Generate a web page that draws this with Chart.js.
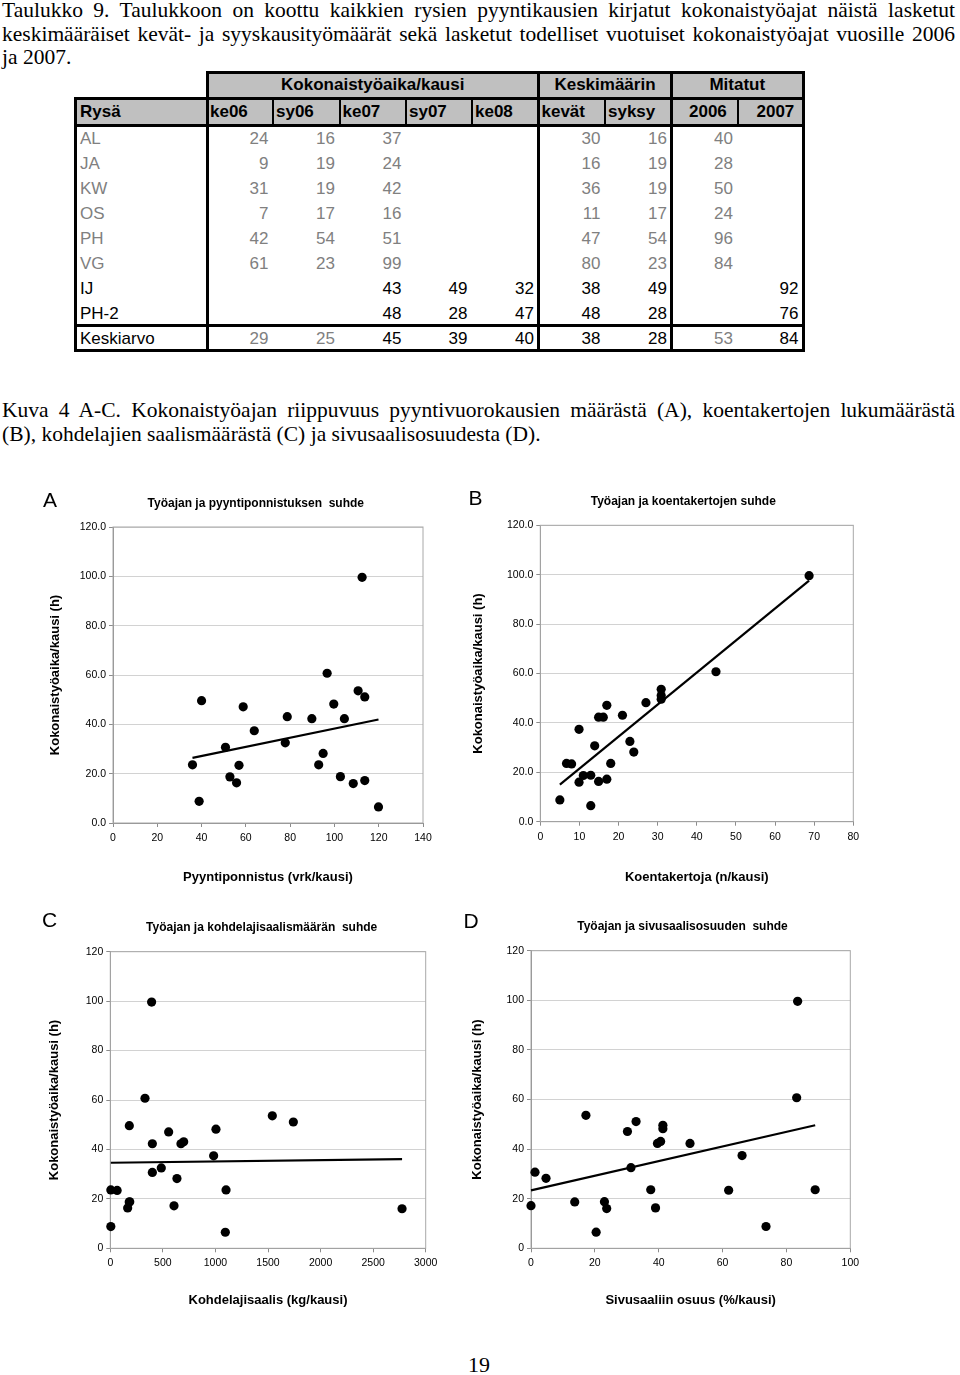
<!DOCTYPE html>
<html><head><meta charset="utf-8">
<script src="https://cdn.jsdelivr.net/npm/chart.js@4.4.1/dist/chart.umd.min.js"></script>
<style>
html,body{margin:0;padding:0;background:#fff;}
#page{position:relative;width:960px;height:1375px;overflow:hidden;background:#fff;}
.serif{position:absolute;left:2px;font-family:'Liberation Serif','Times New Roman',serif;font-size:21.5px;line-height:24px;white-space:nowrap;color:#000;}
.tcell{position:absolute;font-family:'Liberation Sans',Arial,sans-serif;font-size:17px;line-height:20px;white-space:nowrap;color:#000;}
.bold{font-weight:bold;}
.blk{position:absolute;background:#000;}
.bg{position:absolute;background:#c0c0c0;}
.letter{position:absolute;font-family:'Liberation Sans',Arial,sans-serif;font-size:21px;line-height:21px;color:#000;}
.ctitle{position:absolute;font-family:'Liberation Sans',Arial,sans-serif;font-weight:bold;font-size:12px;line-height:14px;white-space:pre;transform:translate(-50%,-50%);color:#000;}
.pnum{position:absolute;font-family:'Liberation Serif','Times New Roman',serif;font-size:22px;line-height:22px;transform:translateX(-50%);}
canvas{position:absolute;}
</style></head>
<body><div id="page"></div>
<script>
// ---------------- DATA ----------------
const introLines = [
  "Taulukko 9. Taulukkoon on koottu kaikkien rysien pyyntikausien kirjatut kokonaistyöajat näistä lasketut",
  "keskimääräiset kevät- ja syyskausityömäärät sekä lasketut todelliset vuotuiset kokonaistyöajat vuosille 2006",
  "ja 2007."
];
const captionLines = [
  "Kuva 4 A-C. Kokonaistyöajan riippuvuus pyyntivuorokausien määrästä (A), koentakertojen lukumäärästä",
  "(B), kohdelajien saalismäärästä (C) ja sivusaalisosuudesta (D)."
];
const groupHeaders = ["Kokonaistyöaika/kausi", "Keskimäärin", "Mitatut"];
const groupSpans = [5, 2, 2];
const rowHeader = "Rysä";
const tableCols = ["ke06","sy06","ke07","sy07","ke08","kevät","syksy","2006","2007"];
const tableRows = ["AL","JA","KW","OS","PH","VG","IJ","PH-2","Keskiarvo"];
const tableValues = [
  [24,16,37,null,null,30,16,40,null],
  [9,19,24,null,null,16,19,28,null],
  [31,19,42,null,null,36,19,50,null],
  [7,17,16,null,null,11,17,24,null],
  [42,54,51,null,null,47,54,96,null],
  [61,23,99,null,null,80,23,84,null],
  [null,null,43,49,32,38,49,null,92],
  [null,null,48,28,47,48,28,null,76],
  [29,25,45,39,40,38,28,53,84]
];
// which cells are printed grey (1 = grey), first entry = row name
const tableGrey = [
  [1,1,1,1,1,1,1,1,1,1],
  [1,1,1,1,1,1,1,1,1,1],
  [1,1,1,1,1,1,1,1,1,1],
  [1,1,1,1,1,1,1,1,1,1],
  [1,1,1,1,1,1,1,1,1,1],
  [1,1,1,1,1,1,1,1,1,1],
  [0,0,0,0,0,0,0,0,0,0],
  [0,0,0,0,0,0,0,0,0,0],
  [0,1,1,0,0,0,0,0,1,0]
];

// Chart A: pyyntiponnistus (vrk/kausi) vs kokonaistyöaika (h)
const xA = [35.9,40.0,38.9,50.8,52.8,55.8,56.9,58.8,63.8,77.8,78.7,89.8,92.9,94.9,96.7,99.7,102.7,104.5,108.5,110.7,112.5,113.7,113.7,119.9];
const yA = [23.6,49.6,8.8,30.7,18.7,16.3,23.4,47.1,37.4,32.5,43.1,42.3,23.6,28.2,60.7,48.2,18.8,42.3,16.0,53.6,99.6,51.1,17.2,6.5];
// Chart B: koentakertoja (n/kausi)
const xB = [5,6.7,8,9.9,9.9,11,12.9,12.9,13.9,14.9,14.9,16.1,17,17,18,21,22.9,23.9,27,30.9,30.9,30.9,44.9,68.7];
const yB = [8.8,23.6,23.4,37.4,16.0,18.7,18.8,6.5,30.7,42.3,16.3,42.3,47.1,17.2,23.6,43.1,32.5,28.2,48.2,53.6,51.1,49.6,60.7,99.6];
// Chart C: kohdelajisaalis (kg/kausi)
const xC = [5,65,1101,5,165,180,185,181,330,393,400,400,485,555,606,634,672,698,983,1005,1094,1541,1741,2775];
const yC = [23.6,23.4,23.6,8.8,16.3,18.7,18.8,49.6,60.7,99.6,42.3,30.7,32.5,47.1,17.2,28.2,42.3,43.1,37.4,48.2,6.5,53.6,51.1,16.0];
// Chart D: sivusaaliin osuus (%/kausi)
const xD = [0,1.25,4.7,13.7,17.2,20.4,23.0,23.7,30.2,31.3,32.9,37.5,39.0,39.6,40.6,41.3,41.3,49.8,61.9,66.1,73.6,83.2,83.5,89.0];
const yD = [17.2,30.7,28.2,18.7,53.6,6.5,18.8,16.0,47.1,32.5,51.1,23.6,16.3,42.3,43.1,49.6,48.2,42.3,23.4,37.4,8.8,60.7,99.6,23.6];

const xTicksA = [0,20,40,60,80,100,120,140];
const xTicksB = [0,10,20,30,40,50,60,70,80];
const xTicksC = [0,500,1000,1500,2000,2500,3000];
const xTicksD = [0,20,40,60,80,100];
const yTicks = [0,20,40,60,80,100,120];

const letters = ["A","B","C","D"];
const chartTitles = ["Työajan ja pyyntiponnistuksen  suhde","Työajan ja koentakertojen suhde","Työajan ja kohdelajisaalismäärän  suhde","Työajan ja sivusaalisosuuden  suhde"];
const xTitles = ["Pyyntiponnistus (vrk/kausi)","Koentakertoja (n/kausi)","Kohdelajisaalis (kg/kausi)","Sivusaaliin osuus (%/kausi)"];
const yTitle = "Kokonaistyöaika/kausi (h)";
const pageNumber = "19";

// ---------------- TEXT ----------------
const page = document.getElementById('page');
function el(cls, txt, css){ const d=document.createElement('div'); d.className=cls; if(txt!==undefined) d.textContent=txt; Object.assign(d.style, css||{}); page.appendChild(d); return d; }

function textBlock(lines, top, lh, nJust, width){
  lines.forEach((t,i)=>{
    const d = el('serif', t, {top:(top+i*lh)+'px'});
    if(i<nJust){
      const w = d.getBoundingClientRect().width;
      const spaces = (t.match(/ /g)||[]).length;
      if(spaces>0) d.style.wordSpacing = ((width-w)/spaces)+'px';
    }
  });
}
textBlock(introLines, -2, 23.5, 2, 953);
textBlock(captionLines, 398, 23.5, 1, 953);

// ---------------- TABLE ----------------
const gx = [75.5,207,273,339.5,406,472,538.5,605,671.5,737.5,803];
const yR1 = 72.7, yR2 = 98.3, yD0 = 125, rowH = 25;
const nR = tableRows.length;
const yEnd = yD0 + nR*rowH;
function hl(x1,x2,y,t){ el('blk',undefined,{left:(x1-t/2)+'px',top:(y-t/2)+'px',width:(x2-x1+t)+'px',height:t+'px'}); }
function vl(x,y1,y2,t){ el('blk',undefined,{left:(x-t/2)+'px',top:(y1-t/2)+'px',width:t+'px',height:(y2-y1+t)+'px'}); }
el('bg',undefined,{left:gx[1]+'px',top:yR1+'px',width:(gx[10]-gx[1])+'px',height:(yR2-yR1)+'px'});
el('bg',undefined,{left:gx[0]+'px',top:yR2+'px',width:(gx[10]-gx[0])+'px',height:(yD0-yR2)+'px'});
function cellText(txt, cy, opts){
  const d = el('tcell'+(opts.bold?' bold':''), txt, {top:(cy-9.8)+'px', color: opts.grey?'#808080':'#000'});
  const w = d.getBoundingClientRect().width;
  if(opts.align==='left') d.style.left = opts.x+'px';
  else if(opts.align==='right') d.style.left = (opts.x - w)+'px';
  else d.style.left = (opts.x - w/2)+'px';
}
// group headers
let gi = 1;
groupHeaders.forEach((g,i)=>{
  const a = gx[gi], b = gx[gi+groupSpans[i]];
  cellText(g, (yR1+yR2)/2 - 1, {bold:true, align:'center', x:(a+b)/2});
  gi += groupSpans[i];
});
// column headers
cellText(rowHeader, (yR2+yD0)/2, {bold:true, align:'left', x:80});
tableCols.forEach((c,i)=>{
  const extra = (i===7) ? 17.5 : (i===8 ? 19 : 3);
  cellText(c, (yR2+yD0)/2, {bold:true, align:'left', x:gx[i+1]+extra});
});
// body
tableRows.forEach((r,ri)=>{
  const cy = yD0 + ri*rowH + rowH/2 + 0.8;
  cellText(r, cy, {align:'left', x:80, grey:tableGrey[ri][0]===1});
  tableValues[ri].forEach((v,ci)=>{
    if(v===null) return;
    cellText(String(v), cy, {align:'right', x:gx[ci+2]-4.5, grey:tableGrey[ri][ci+1]===1});
  });
});
// borders
hl(gx[1],gx[10],yR1,3);
hl(gx[0],gx[10],yR2,3);
hl(gx[0],gx[10],yD0,3);
hl(gx[0],gx[10],yEnd-rowH,3);
hl(gx[0],gx[10],yEnd,3);
vl(gx[0],yR2,yEnd,3);
[1,6,8,10].forEach(i=>vl(gx[i],yR1,yEnd,3));
[2,3,4,5,7,9].forEach(i=>vl(gx[i],yR2,yD0,2));

// ---------------- CHARTS ----------------
const FONT = "'Liberation Sans', Arial, Helvetica, sans-serif";
function linreg(xs, ys){
  const n = xs.length; let sx=0,sy=0,sxx=0,sxy=0;
  for(let i=0;i<n;i++){ sx+=xs[i]; sy+=ys[i]; sxx+=xs[i]*xs[i]; sxy+=xs[i]*ys[i]; }
  const b = (n*sxy - sx*sy)/(n*sxx - sx*sx);
  return {a:(sy - b*sx)/n, b};
}
const framePlugin = {
  id:'frame',
  beforeDatasetsDraw(chart){
    const {ctx, chartArea:a} = chart;
    ctx.save(); ctx.strokeStyle='#a8a8a8'; ctx.lineWidth=1;
    ctx.strokeRect(a.left, a.top, a.right-a.left, a.bottom-a.top);
    ctx.restore();
  }
};
const specs = [
  {xs:xA, ys:yA, xt:xTicksA, dec:1, left:0,   top:480, yW:113,   padT:47,   padR:27,   xH:77,   yTP:47.2, xTP:15.2},
  {xs:xB, ys:yB, xt:xTicksB, dec:1, left:430, top:480, yW:110.3, padT:45.3, padR:26.7, xH:78.3, yTP:40.5, xTP:15.2},
  {xs:xC, ys:yC, xt:xTicksC, dec:0, left:0,   top:900, yW:110.3, padT:51.7, padR:24.3, xH:71.7, yTP:46.2, xTP:12.2},
  {xs:xD, ys:yD, xt:xTicksD, dec:0, left:430, top:900, yW:101,   padT:50.7, padR:29.7, xH:71.7, yTP:40,   xTP:12.2}
];
const W = 450, H = 420;
specs.forEach((s,k)=>{
  const cv = document.createElement('canvas');
  cv.width = W; cv.height = H;
  cv.style.left = s.left+'px'; cv.style.top = s.top+'px';
  cv.style.width = W+'px'; cv.style.height = H+'px';
  page.appendChild(cv);
  const pts = s.xs.map((x,i)=>({x, y:s.ys[i]}));
  const r = linreg(s.xs, s.ys);
  const x0 = Math.min(...s.xs), x1 = Math.max(...s.xs);
  const trend = [{x:x0, y:r.a+r.b*x0},{x:x1, y:r.a+r.b*x1}];
  new Chart(cv, {
    type:'scatter',
    data:{datasets:[
      {data:pts, pointBackgroundColor:'#000', backgroundColor:'#000', pointBorderWidth:0, borderWidth:0, pointRadius:4.6, clip:false},
      {data:trend, showLine:true, borderColor:'#000', borderWidth:2.2, pointRadius:0, fill:false, clip:false}
    ]},
    options:{
      responsive:false, animation:false,
      layout:{padding:{left:0, top:s.padT, right:s.padR, bottom:0}},
      plugins:{legend:{display:false}, tooltip:{enabled:false}, title:{display:false}},
      scales:{
        x:{
          type:'linear', min:s.xt[0], max:s.xt[s.xt.length-1],
          afterBuildTicks: sc=>{ sc.ticks = s.xt.map(v=>({value:v})); },
          ticks:{font:{family:FONT,size:10.5}, color:'#000', padding:5, maxRotation:0, autoSkip:false, callback:v=>String(v)},
          grid:{drawOnChartArea:false, drawTicks:true, tickLength:4, tickColor:'#8c8c8c'},
          border:{color:'#8c8c8c', width:1},
          title:{display:true, text:xTitles[k], color:'#000', font:{family:FONT,size:13,weight:'bold'}, padding:{top:4,bottom:s.xTP}},
          afterFit: sc=>{ sc.height = s.xH; }
        },
        y:{
          type:'linear', min:yTicks[0], max:yTicks[yTicks.length-1],
          afterBuildTicks: sc=>{ sc.ticks = yTicks.map(v=>({value:v})); },
          ticks:{font:{family:FONT,size:10.5}, color:'#000', padding:3, autoSkip:false, callback:v=> s.dec ? Number(v).toFixed(1) : String(v)},
          grid:{color:'#d2d2d2', lineWidth:1, drawTicks:true, tickLength:4, tickColor:'#8c8c8c'},
          border:{color:'#8c8c8c', width:1},
          title:{display:true, text:yTitle, color:'#000', font:{family:FONT,size:13,weight:'bold'}, padding:{top:s.yTP,bottom:4}},
          afterFit: sc=>{ sc.width = s.yW; }
        }
      }
    },
    plugins:[framePlugin]
  });
});

// letters and chart titles
const letterPos = [[43,489],[468.5,487],[42,909],[463.5,910]];
letters.forEach((L,i)=> el('letter', L, {left:letterPos[i][0]+'px', top:letterPos[i][1]+'px'}));
const titlePos = [[255.8,503.3],[683.3,500.7],[261.7,927.3],[682.5,926]];
chartTitles.forEach((t,i)=> el('ctitle', t, {left:titlePos[i][0]+'px', top:titlePos[i][1]+'px'}));
el('pnum', pageNumber, {left:'479px', top:'1354px'});
</script>
</body></html>
